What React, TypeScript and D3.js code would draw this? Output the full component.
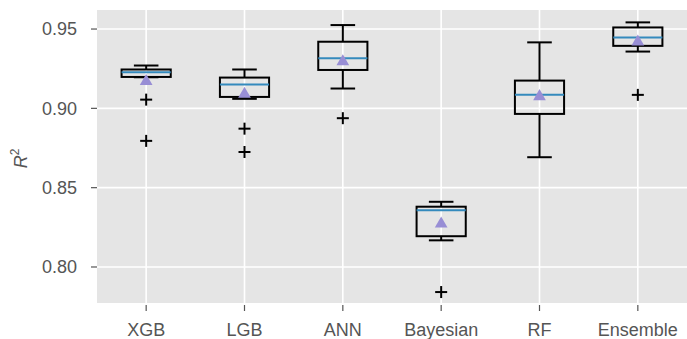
import React from 'react';
import * as d3 from 'd3';

const categories = ['XGB', 'LGB', 'ANN', 'Bayesian', 'RF', 'Ensemble'];
const whiskerHigh = [0.9270, 0.9245, 0.9525, 0.8411, 0.9416, 0.9542];
const q3 = [0.9245, 0.9194, 0.9420, 0.8380, 0.9175, 0.9510];
const medians = [0.9228, 0.9150, 0.9316, 0.8358, 0.9085, 0.9447];
const q1 = [0.9198, 0.9072, 0.9242, 0.8194, 0.8965, 0.9394];
const whiskerLow = [0.9196, 0.9060, 0.9125, 0.8168, 0.8692, 0.9358];
const means = [0.9170, 0.9090, 0.9295, 0.8272, 0.9075, 0.9420];
const outliers = [[0.9055, 0.8795], [0.8872, 0.8725], [0.8938], [0.7842], [], [0.9085]];
const yTicks = [0.8, 0.85, 0.9, 0.95];

const W = 687;
const H = 339;
const left = 97, right = 687, top = 10, bottom = 303;

export default function App() {
  const x = d3.scaleLinear().domain([0.5, 6.5]).range([left, right]);
  const y = d3.scaleLinear().domain([0.7773, 0.962]).range([bottom, top]);
  const bw = x(1.25) - x(1);
  const cw = x(1.125) - x(1);
  const font = '"Liberation Sans", Arial, sans-serif';
  const tri = d3.symbol(d3.symbolTriangle, 70)();

  return (
    <svg width={W} height={H} style={{ position: 'absolute', left: 0, top: 0 }} fontFamily={font}>
      <rect x={left} y={top} width={right - left} height={bottom - top} fill="#E5E5E5" />
      {yTicks.map(t => (
        <g key={t}>
          <line x1={left} x2={right} y1={y(t)} y2={y(t)} stroke="#fff" strokeWidth={1.6} />
          <line x1={left - 6} x2={left} y1={y(t)} y2={y(t)} stroke="#555" strokeWidth={1.2} />
          <text x={left - 20} y={y(t)} dy="0.35em" textAnchor="end" fontSize={18} fill="#555">
            {d3.format('.2f')(t)}
          </text>
        </g>
      ))}
      {categories.map((c, i) => (
        <g key={c}>
          <line x1={x(i + 1)} x2={x(i + 1)} y1={top} y2={bottom} stroke="#fff" strokeWidth={1.6} />
          <line x1={x(i + 1)} x2={x(i + 1)} y1={bottom + 2} y2={bottom + 8} stroke="#555" strokeWidth={1.2} />
          <text x={x(i + 1)} y={336} textAnchor="middle" fontSize={18} fill="#555">{c}</text>
        </g>
      ))}
      <text transform={`translate(27,${(top + bottom) / 2 + 2}) rotate(-90)`} textAnchor="middle" fontSize={18} fill="#555">
        <tspan fontStyle="italic">R</tspan>
        <tspan dy={-8} fontSize={12}>2</tspan>
      </text>
      {categories.map((c, i) => {
        const cx = x(i + 1);
        return (
          <g key={c} stroke="#000" strokeWidth={2} fill="none">
            <line x1={cx} x2={cx} y1={y(q3[i])} y2={y(whiskerHigh[i])} />
            <line x1={cx} x2={cx} y1={y(q1[i])} y2={y(whiskerLow[i])} />
            <line x1={cx - cw} x2={cx + cw} y1={y(whiskerHigh[i])} y2={y(whiskerHigh[i])} />
            <line x1={cx - cw} x2={cx + cw} y1={y(whiskerLow[i])} y2={y(whiskerLow[i])} />
            <rect x={cx - bw} y={y(q3[i])} width={2 * bw} height={y(q1[i]) - y(q3[i])} />
            <line x1={cx - bw} x2={cx + bw} y1={y(medians[i])} y2={y(medians[i])} stroke="#348ABD" />
            <path d={tri ?? ''} transform={`translate(${cx},${y(means[i])})`} fill="#988ED5" stroke="none" />
            {outliers[i].map((o, j) => (
              <g key={j}>
                <line x1={cx - 6} x2={cx + 6} y1={y(o)} y2={y(o)} />
                <line x1={cx} x2={cx} y1={y(o) - 6} y2={y(o) + 6} />
              </g>
            ))}
          </g>
        );
      })}
    </svg>
  );
}
